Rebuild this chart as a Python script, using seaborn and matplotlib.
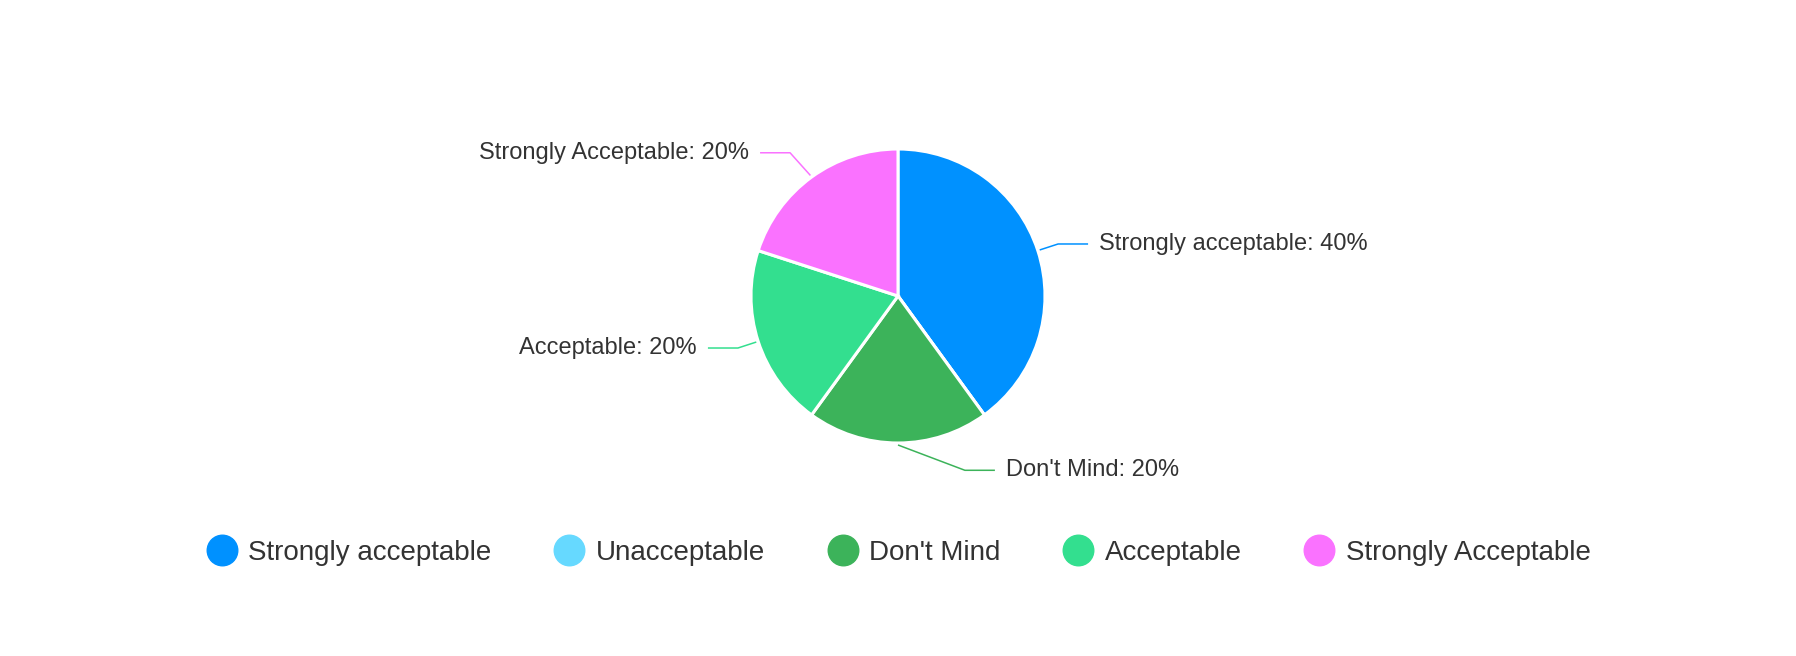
import numpy as np
import matplotlib.pyplot as plt
import seaborn as sns
from matplotlib.lines import Line2D

categories = ["Strongly acceptable", "Unacceptable", "Don't Mind", "Acceptable", "Strongly Acceptable"]
values = [40, 0, 20, 20, 20]
colors = ["#0091ff", "#66d9ff", "#3cb35a", "#33df8f", "#fa72ff"]

sns.set_theme(style="white")
plt.rcParams['font.family'] = ['Liberation Sans', 'DejaVu Sans']

W, H = 1796, 656
fig = plt.figure(figsize=(W / 100, H / 100), dpi=100)
ax = fig.add_axes([0, 0, 1, 1])

cx, cy, r = 898, 360, 147
wedges, _ = ax.pie(values, colors=colors, startangle=90, counterclock=False,
                   center=(cx, cy), radius=r, frame=True,
                   wedgeprops=dict(edgecolor='white', linewidth=2.2))
ax.set_xlim(0, W)
ax.set_ylim(0, H)
ax.set_aspect('equal')
ax.axis('off')

# leader lines: elbow radius factor and angle nudge per slice
elbow_r = [1.145, 1.0, 1.27, 1.145, 1.22]
elbow_da = [0, 0, 21, 0, 1]
total = sum(values)
start = 90.0
for name, v, col, er, da in zip(categories, values, colors, elbow_r, elbow_da):
    span = 360.0 * v / total
    mid = start - span / 2
    start -= span
    if v == 0:
        continue
    a0 = np.deg2rad(mid)
    x0, y0 = cx + (r + 2) * np.cos(a0), cy + (r + 2) * np.sin(a0)
    a1 = np.deg2rad(mid + da)
    x1, y1 = cx + r * er * np.cos(a1), cy + r * er * np.sin(a1)
    side = 1 if x1 >= cx else -1
    x2 = x1 + side * 30
    ax.plot([x0, x1, x2], [y0, y1, y1], color=col, lw=1.1, solid_capstyle='butt')
    ax.text(x2 + side * 11, y1, f"{name}: {v}%", ha='left' if side > 0 else 'right',
            va='center', fontsize=17, color='#333333')

handles = [Line2D([], [], marker='o', linestyle='', markersize=22,
                  markerfacecolor=c, markeredgecolor=c) for c in colors]
fig.legend(handles, categories, loc='center', bbox_to_anchor=(0.5, 1 - 553 / H),
           ncol=5, frameon=False, fontsize=20, labelcolor='#333333',
           handletextpad=0.35, columnspacing=2.2, handlelength=1.2)

fig.savefig("out.png", dpi=100, facecolor='white')
